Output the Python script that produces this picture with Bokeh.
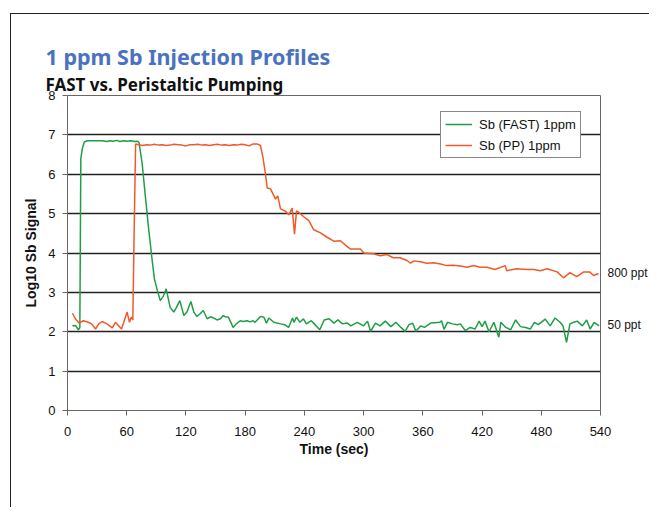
from bokeh.plotting import figure
from bokeh.models import (Legend, LegendItem, FixedTicker, Range1d, Title, LinearAxis)
from bokeh.embed import file_html
from bokeh.resources import INLINE

title_text = "1 ppm Sb Injection Profiles"
subtitle_text = "FAST vs. Peristaltic Pumping"
x_label = "Time (sec)"
y_label = "Log10 Sb Signal"
x_ticks = [0, 60, 120, 180, 240, 300, 360, 420, 480, 540]
y_ticks = [0, 1, 2, 3, 4, 5, 6, 7, 8]
series_names = ["Sb (FAST) 1ppm", "Sb (PP) 1ppm"]
end_labels = ["800 ppt", "50 ppt"]
end_label_y = [3.49, 2.17]

t_fast = [5, 8, 11, 12.5, 13.5, 15, 17, 20, 25, 30, 35, 40, 43, 46, 50, 53, 57, 60, 64, 68, 71, 72.5,
          75.7, 79, 82.4, 85.8, 88, 91, 94, 97, 100, 104, 107.7, 110, 113.8, 117.9, 121, 125, 128, 131,
          134, 137.5, 141.5, 145, 148, 151.5, 155, 157.7, 160, 163, 167.8, 171, 175, 178, 182, 185, 188,
          190, 195.5, 199, 201.6, 204, 209, 216, 220, 224, 228, 229.5, 232, 235.5, 239, 242, 247, 250,
          255.6, 260, 265, 270, 274, 278.6, 283.6, 287, 293.6, 300, 304, 307, 312, 316.6, 322, 327.7,
          332.7, 337.8, 342, 346, 349.6, 353, 358, 361.6, 368, 372, 377, 379, 381.5, 385, 390, 395, 398,
          403, 408, 413, 417, 420, 423, 427, 432, 437, 439, 444, 449, 454, 459, 464, 469, 473, 477, 484,
          489, 494, 499, 502, 505.6, 509, 513, 516.5, 521.6, 526, 529.5, 533.6, 538.6]
y_fast = [2.15, 2.16, 2.05, 2.1, 6.4, 6.65, 6.82, 6.85, 6.85, 6.85, 6.85, 6.83, 6.85, 6.84, 6.86, 6.83, 6.85, 6.84, 6.85, 6.83, 6.84, 6.8,
          6.26, 5.41, 4.57, 3.81, 3.35, 3.05, 2.79, 2.9, 3.09, 2.62, 2.5, 2.6, 2.79, 2.41, 2.5, 2.77, 2.5, 2.39,
          2.45, 2.54, 2.33, 2.38, 2.35, 2.3, 2.33, 2.41, 2.38, 2.37, 2.11, 2.2, 2.28, 2.26, 2.28, 2.25, 2.28,
          2.24, 2.39, 2.37, 2.22, 2.35, 2.24, 2.2, 2.18, 2.11, 2.35, 2.24, 2.37, 2.24, 2.33, 2.2, 2.28, 2.2,
          2.05, 2.3, 2.33, 2.22, 2.3, 2.2, 2.22, 2.15, 2.24, 2.15, 2.27, 2.01, 2.22, 2.15, 2.27, 2.13,
          2.24, 2.11, 2.01, 2.18, 2.22, 2.01, 2.15, 2.11, 2.22, 2.23, 2.24, 2.28, 2.06, 2.24, 2.2, 2.18, 2.2,
          2.03, 2.11, 2.07, 2.27, 2.13, 2.27, 2.0, 2.24, 1.86, 2.24, 2.11, 2.05, 2.3, 2.13, 2.11, 2.07, 2.24, 2.18, 2.32,
          2.15, 2.35, 2.24, 2.15, 1.73, 2.2, 2.24, 2.27, 2.15, 2.3, 2.07, 2.24, 2.15]

t_pp = [5, 8, 11.5, 16, 21, 24.5, 28.4, 31.7, 35, 40, 45.3, 48.6, 54.7, 57, 60.4, 62.8, 64.5, 66.2, 67.5,
        69, 72, 76, 80, 84, 88, 92, 96, 100, 104, 108, 112, 116, 120, 124, 128, 132, 136, 140, 144, 148,
        152, 156, 160, 164, 168, 172, 176, 180, 184, 188, 192, 195.5, 198, 200.6, 202.3, 205.7, 210.7,
        213, 215.8, 220.9, 224.2, 227.6, 230, 232, 234.3, 239.4, 244.5, 249.5, 256.3, 263, 269.8, 276.5,
        281.6, 286.7, 296.8, 300.2, 310, 316.9, 323.6, 330, 337, 344, 347.5, 351, 357.5, 364, 371, 378,
        384, 391, 398, 405, 411.5, 418, 425, 433, 443.5, 445, 455, 466, 472.5, 479, 486, 496, 502.6, 509,
        516, 523, 529, 533, 538]
y_pp = [2.47, 2.33, 2.22, 2.28, 2.24, 2.2, 2.07, 2.2, 2.26, 2.2, 2.1, 2.24, 2.07, 2.24, 2.5, 2.24, 2.37, 2.3, 4.5,
        6.77, 6.75, 6.73, 6.75, 6.74, 6.76, 6.74, 6.75, 6.73, 6.74, 6.76, 6.75, 6.74, 6.72, 6.75, 6.75, 6.76, 6.74, 6.75, 6.73, 6.75,
        6.76, 6.74, 6.75, 6.73, 6.75, 6.74, 6.76, 6.75, 6.72, 6.77, 6.77, 6.73, 6.43, 6.0, 5.65, 5.63, 5.37,
        5.45, 5.12, 5.06, 4.97, 5.14, 4.48, 5.07, 5.03, 4.92, 4.82, 4.59, 4.51, 4.4, 4.3, 4.31,
        4.2, 4.1, 4.1, 4.0, 3.98, 3.93, 3.96, 3.88, 3.88, 3.81, 3.74, 3.8, 3.78, 3.74, 3.75, 3.72,
        3.68, 3.69, 3.67, 3.64, 3.68, 3.64, 3.64, 3.58, 3.68, 3.55, 3.6, 3.58, 3.58, 3.55, 3.6, 3.52, 3.37, 3.5,
        3.4, 3.52, 3.52, 3.43, 3.48]

GREEN = "#1f9e45"
RED = "#f05a28"
AXIS = "#6f6560"
FONT = "Liberation Sans"

p = figure(width=639, height=494, output_backend="svg", toolbar_location=None,
           x_range=Range1d(0, 540), y_range=Range1d(0, 8),
           min_border_left=56, min_border_right=50, min_border_top=81, min_border_bottom=98)
p.styles = {"margin-left": "10px", "margin-top": "13px",
            "border-left": "1px solid #222222", "border-top": "1px solid #222222"}
p.background_fill_color = "white"
p.border_fill_color = "white"
p.outline_line_color = AXIS
p.outline_line_width = 1

xax = p.below[0]
yax = p.left[0]

# empty spacer axis right above the frame (nothing drawn, only reserves space)
spacer = LinearAxis(ticker=FixedTicker(ticks=[]), axis_line_color=None,
                    major_tick_line_color=None, minor_tick_line_color=None,
                    major_tick_in=0, major_tick_out=16, minor_tick_in=0, minor_tick_out=0,
                    major_label_standoff=0)
p.add_layout(spacer, "above")

# subtitle above the spacer, main title outermost
p.add_layout(Title(text=subtitle_text, text_font="Noto Sans", text_font_size="17px",
                   text_font_style="bold", text_color="#111111", align="left",
                   offset=-22, standoff=0), "above")
p.title.text = title_text
p.title.text_font = "Noto Sans"
p.title.text_font_size = "21.5px"
p.title.text_font_style = "bold"
p.title.text_color = "#4a72be"
p.title.align = "left"
p.title.offset = -22
p.title.standoff = 0

xax.ticker = FixedTicker(ticks=x_ticks)
yax.ticker = FixedTicker(ticks=y_ticks)
p.xgrid.visible = False
p.ygrid.ticker = FixedTicker(ticks=y_ticks[1:-1])
p.ygrid.grid_line_color = "#222222"
p.ygrid.grid_line_width = 1.5

for ax in (xax, yax):
    ax.axis_line_color = AXIS
    ax.major_tick_line_color = AXIS
    ax.minor_tick_line_color = None
    ax.major_label_text_font = FONT
    ax.major_label_text_font_size = "13px"
    ax.major_label_text_color = "#111111"
    ax.axis_label_text_font = FONT
    ax.axis_label_text_font_size = "14px"
    ax.axis_label_text_font_style = "bold"
    ax.axis_label_text_color = "#111111"
xax.major_tick_in = 0
xax.major_tick_out = 5
yax.major_tick_in = 0
yax.major_tick_out = 5
xax.major_label_standoff = 11
yax.major_label_standoff = 7
xax.axis_label = x_label
yax.axis_label = y_label
xax.axis_label_standoff = 2
yax.axis_label_standoff = 6

# right-hand end labels as a bare axis
right = LinearAxis(ticker=FixedTicker(ticks=end_label_y),
                   major_label_overrides={end_label_y[0]: end_labels[0], end_label_y[1]: end_labels[1]},
                   axis_line_color=None, major_tick_line_color=None, minor_tick_line_color=None,
                   major_tick_in=0, major_tick_out=0, major_label_standoff=7,
                   major_label_text_font=FONT, major_label_text_font_size="12px",
                   major_label_text_color="#111111")
p.add_layout(right, "right")

r1 = p.line(t_fast, y_fast, line_color=GREEN, line_width=1.5)
r2 = p.line(t_pp, y_pp, line_color=RED, line_width=1.5)

legend = Legend(items=[LegendItem(label=series_names[0], renderers=[r1]),
                       LegendItem(label=series_names[1], renderers=[r2])],
                location=(373, 252), orientation="vertical")
legend.border_line_color = "#111111"
legend.border_line_width = 1
legend.background_fill_alpha = 1
legend.label_text_font = FONT
legend.label_text_font_size = "13px"
legend.label_text_color = "#111111"
legend.glyph_width = 27
legend.glyph_height = 16
legend.label_height = 16
legend.label_standoff = 7
legend.spacing = 5
legend.padding = 4
legend.margin = 0
p.add_layout(legend, "center")

open("out.html", "w").write(file_html(p, INLINE))
